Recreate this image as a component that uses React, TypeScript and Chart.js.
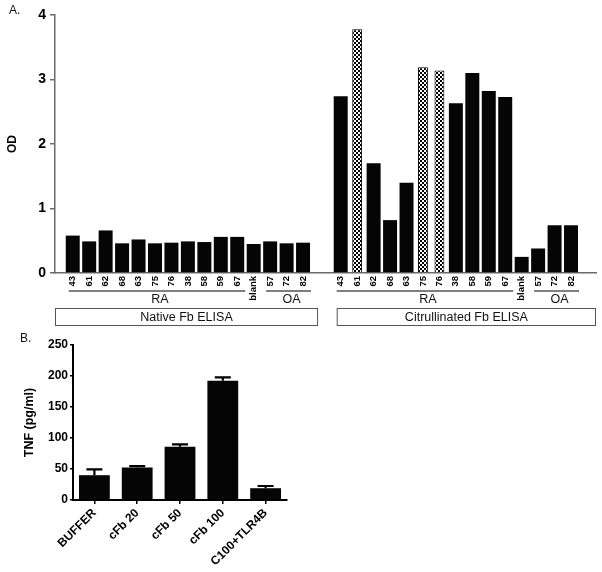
import React, { useEffect, useRef } from 'react';
import { Chart, registerables } from 'chart.js';

Chart.register(...registerables);

const FONT = '"Liberation Sans", Arial, Helvetica, sans-serif';

// ---------- Panel A data ----------
const sampleLabels = ['43', '61', '62', '68', '63', '75', '76', '38', '58', '59', '67', 'blank', '57', '72', '82'];
const nativeOD = [0.58, 0.49, 0.66, 0.46, 0.52, 0.46, 0.47, 0.49, 0.48, 0.56, 0.56, 0.45, 0.49, 0.46, 0.47];
const citrullinatedOD = [2.74, 3.78, 1.7, 0.82, 1.4, 3.19, 3.14, 2.63, 3.1, 2.82, 2.73, 0.25, 0.38, 0.74, 0.74];
const citrullinatedPatterned = ['61', '75', '76'];
const groupNames = ['RA', 'OA'];
const groupRanges = [[0, 10], [12, 14]]; // sample indices covered by each group
const panelTitles = ['Native Fb ELISA', 'Citrullinated Fb ELISA'];
const odAxisTitle = 'OD';

// ---------- Panel B data ----------
const tnfCategories = ['BUFFER', 'cFb 20', 'cFb 50', 'cFb 100', 'C100+TLR4B'];
const tnfValues = [40, 52.5, 86, 192.5, 19];
const tnfErrors = [9.5, 2, 3.8, 5.3, 3.6];
const tnfAxisTitle = 'TNF (pg/ml)';

// ---------- layout constants ----------
const PANEL_GAP = 1.29; // extra slot space between the two ELISA panels
const X_PAD_LEFT = 0.53;
const X_PAD_RIGHT = 0.97;

export default function App() {
  const refA = useRef<HTMLCanvasElement>(null);
  const refB = useRef<HTMLCanvasElement>(null);

  useEffect(() => {
    Chart.defaults.font.family = FONT;
    const n = sampleLabels.length;
    const posNative = sampleLabels.map((_, i) => i);
    const citrStart = n + PANEL_GAP;
    const posCitr = sampleLabels.map((_, i) => citrStart + i);
    const allPos = [...posNative, ...posCitr];
    const allLabels = [...sampleLabels, ...sampleLabels];

    const solidData: { x: number; y: number }[] = [];
    const patternData: { x: number; y: number }[] = [];
    nativeOD.forEach((y, i) => solidData.push({ x: posNative[i], y }));
    citrullinatedOD.forEach((y, i) => {
      const pt = { x: posCitr[i], y };
      if (citrullinatedPatterned.includes(sampleLabels[i])) patternData.push(pt);
      else solidData.push(pt);
    });

    const pc = document.createElement('canvas');
    pc.width = 4;
    pc.height = 4;
    const pg = pc.getContext('2d')!;
    pg.fillStyle = '#fff';
    pg.fillRect(0, 0, 4, 4);
    pg.fillStyle = '#000';
    pg.fillRect(0, 0, 2, 2);
    pg.fillRect(2, 2, 2, 2);
    const ctxA = refA.current!.getContext('2d')!;
    const pattern = ctxA.createPattern(pc, 'repeat')!;

    const AXIS_GREY = '#6a6a6a';

    const groupPlugin = {
      id: 'groupPlugin',
      afterDraw(chart: any) {
        const ctx = chart.ctx;
        const xs = chart.scales.x;
        const area = chart.chartArea;
        const b = area.bottom;
        ctx.save();
        const panels = [posNative, posCitr];
        panels.forEach((pos, p) => {
          groupRanges.forEach((r, g) => {
            const x1 = xs.getPixelForValue(pos[r[0]]) - 4;
            const x2 = xs.getPixelForValue(pos[r[1]]) + 8;
            ctx.strokeStyle = '#555';
            ctx.lineWidth = 1.5;
            ctx.beginPath();
            ctx.moveTo(x1, b + 18);
            ctx.lineTo(x2, b + 18);
            ctx.stroke();
            ctx.fillStyle = '#111';
            ctx.font = `12.5px ${FONT}`;
            ctx.textAlign = 'center';
            ctx.textBaseline = 'middle';
            ctx.fillText(groupNames[g], (x1 + x2) / 2 + 3, b + 26.5);
          });
          const bx1 = p === 0 ? area.left : xs.getPixelForValue(pos[0]) - 4;
          const bx2 = p === 0 ? xs.getPixelForValue(pos[n - 1]) + 15 : area.right;
          ctx.strokeStyle = '#555';
          ctx.lineWidth = 1;
          ctx.strokeRect(bx1 + 0.5, b + 35.5, bx2 - bx1 - 1, 17);
          ctx.fillStyle = '#111';
          ctx.font = `12.5px ${FONT}`;
          ctx.textAlign = 'center';
          ctx.textBaseline = 'middle';
          ctx.fillText(panelTitles[p], (bx1 + bx2) / 2, b + 44.5);
        });
        ctx.restore();
      },
    };

    const chartA = new Chart(ctxA, {
      type: 'bar',
      data: {
        datasets: [
          {
            data: solidData as any,
            backgroundColor: '#050505',
            borderWidth: 0,
            categoryPercentage: 1,
            barPercentage: 0.85,
            grouped: false,
          } as any,
          {
            data: patternData as any,
            backgroundColor: pattern as any,
            borderColor: '#000',
            borderWidth: 1,
            categoryPercentage: 1,
            barPercentage: 0.6,
            grouped: false,
          } as any,
        ],
      },
      options: {
        responsive: false,
        animation: false,
        devicePixelRatio: 1,
        layout: { padding: { top: 15, right: 6, left: 0, bottom: 0 } },
        plugins: { legend: { display: false }, tooltip: { enabled: false }, title: { display: false } },
        scales: {
          x: {
            type: 'linear',
            min: -X_PAD_LEFT,
            max: citrStart + n - 1 + X_PAD_RIGHT,
            afterBuildTicks: (s: any) => {
              s.ticks = allPos.map((v) => ({ value: v }));
            },
            ticks: {
              autoSkip: false,
              minRotation: 90,
              maxRotation: 90,
              padding: 3,
              color: '#000',
              font: { size: 9.5, weight: 'bold' },
              callback: (_v: any, i: number) => allLabels[i],
            },
            grid: { display: false, drawTicks: false },
            border: { display: true, color: AXIS_GREY, width: 1.5 },
            afterFit: (s: any) => {
              s.height = 57;
            },
          } as any,
          y: {
            min: 0,
            max: 4,
            ticks: { stepSize: 1, color: '#000', font: { size: 14, weight: 'bold' }, padding: 4 },
            grid: { drawOnChartArea: false, tickLength: 5, color: AXIS_GREY, lineWidth: 1.5 },
            border: { color: AXIS_GREY, width: 1.5 },
            title: {
              display: true,
              text: odAxisTitle,
              color: '#000',
              font: { size: 12, weight: 'bold' },
              padding: { top: 5, bottom: 0 },
            },
            afterFit: (s: any) => {
              s.width = 55;
            },
          } as any,
        },
      },
      plugins: [groupPlugin],
    });

    const errorPlugin = {
      id: 'errorPlugin',
      afterDatasetsDraw(chart: any) {
        const ctx = chart.ctx;
        const ys = chart.scales.y;
        const meta = chart.getDatasetMeta(0);
        ctx.save();
        ctx.strokeStyle = '#000';
        ctx.lineWidth = 2.2;
        meta.data.forEach((el: any, i: number) => {
          const x = el.x;
          const yb = ys.getPixelForValue(tnfValues[i]);
          const yt = ys.getPixelForValue(tnfValues[i] + tnfErrors[i]);
          ctx.beginPath();
          ctx.moveTo(x, yb);
          ctx.lineTo(x, yt);
          ctx.moveTo(x - 8, yt);
          ctx.lineTo(x + 8, yt);
          ctx.stroke();
        });
        ctx.restore();
      },
    };

    const chartB = new Chart(refB.current!.getContext('2d')!, {
      type: 'bar',
      data: {
        labels: tnfCategories,
        datasets: [
          {
            data: tnfValues,
            backgroundColor: '#050505',
            borderWidth: 0,
            categoryPercentage: 1,
            barPercentage: 0.72,
          },
        ],
      },
      options: {
        responsive: false,
        animation: false,
        devicePixelRatio: 1,
        layout: { padding: { top: 15, right: 315, left: 0, bottom: 0 } },
        plugins: { legend: { display: false }, tooltip: { enabled: false }, title: { display: false } },
        scales: {
          x: {
            ticks: {
              autoSkip: false,
              minRotation: 45,
              maxRotation: 45,
              padding: 2,
              color: '#000',
              font: { size: 12, weight: 'bold' },
            },
            grid: { drawOnChartArea: false, offset: false, tickLength: 4, color: '#000', lineWidth: 1.5 },
            border: { color: '#000', width: 2 },
            afterFit: (s: any) => {
              s.height = 72;
            },
          } as any,
          y: {
            min: 0,
            max: 250,
            ticks: { stepSize: 50, color: '#000', font: { size: 12, weight: 'bold' }, padding: 2 },
            grid: { drawOnChartArea: false, tickLength: 3, color: '#000', lineWidth: 1.5 },
            border: { color: '#000', width: 2 },
            title: {
              display: true,
              text: tnfAxisTitle,
              color: '#000',
              font: { size: 12.5, weight: 'bold' },
              padding: { top: 22, bottom: 0 },
            },
            afterFit: (s: any) => {
              s.width = 73;
            },
          } as any,
        },
      },
      plugins: [errorPlugin],
    });

    return () => {
      chartA.destroy();
      chartB.destroy();
    };
  }, []);

  return (
    <div
      style={{
        position: 'absolute',
        left: 0,
        top: 0,
        width: 602,
        height: 572,
        background: '#fff',
        fontFamily: FONT,
        color: '#111',
      }}
    >
      <canvas ref={refA} width={602} height={330} style={{ position: 'absolute', left: 0, top: 0 }} />
      <canvas ref={refB} width={602} height={242} style={{ position: 'absolute', left: 0, top: 330 }} />
      <div style={{ position: 'absolute', left: 9, top: 3, fontSize: 12, lineHeight: '14px' }}>A.</div>
      <div style={{ position: 'absolute', left: 20, top: 331, fontSize: 12, lineHeight: '14px' }}>B.</div>
    </div>
  );
}
